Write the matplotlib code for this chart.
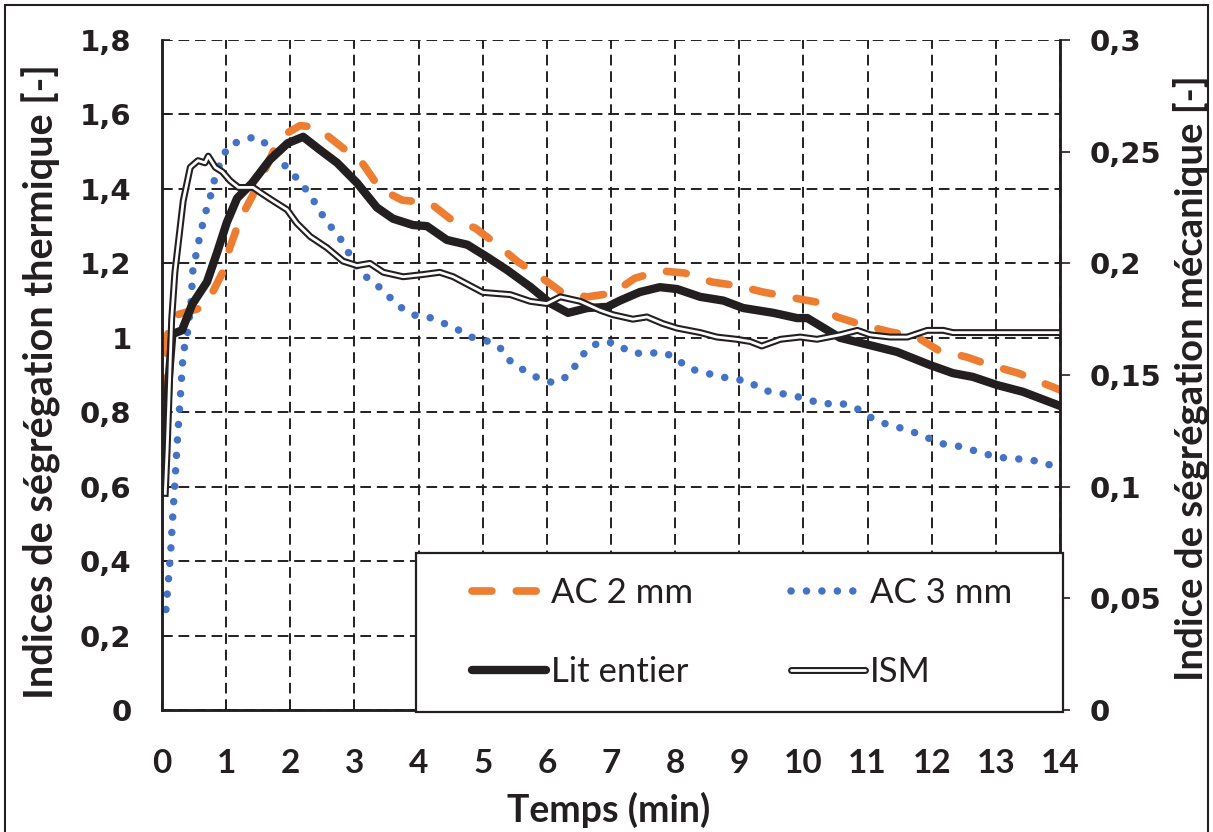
import matplotlib.pyplot as plt
from matplotlib.lines import Line2D
from matplotlib.patches import Rectangle
from matplotlib.legend_handler import HandlerLine2D, HandlerTuple

# Lit entier (indice thermique, axe gauche)
t_lit = [0.03, 0.06, 0.1, 0.16, 0.31, 0.47, 0.70, 0.86, 1.01, 1.17, 1.40, 1.68, 1.96, 2.20,
         2.46, 2.73, 3.04, 3.35, 3.60, 3.91, 4.13, 4.44, 4.76, 5.07, 5.38, 5.74, 6.05, 6.33,
         6.63, 6.94, 7.14, 7.45, 7.76, 8.03, 8.39, 8.75, 9.06, 9.53, 9.9, 10.06, 10.57, 11.04,
         11.46, 11.97, 12.33, 12.64, 13.02, 13.42, 14.0]
v_lit = [0.64, 0.72, 0.88, 1.01, 1.02, 1.09, 1.15, 1.23, 1.31, 1.375, 1.415, 1.478, 1.523, 1.54,
         1.505, 1.47, 1.416, 1.35, 1.32, 1.303, 1.30, 1.263, 1.25, 1.217, 1.182, 1.137, 1.093, 1.067,
         1.08, 1.083, 1.10, 1.123, 1.136, 1.131, 1.11, 1.10, 1.08, 1.067, 1.053, 1.053, 1.0, 0.98,
         0.962, 0.927, 0.905, 0.895, 0.873, 0.855, 0.817]

# AC 2 mm
t_ac2 = [0.02, 0.05, 0.1, 0.2, 0.4, 0.6, 0.75, 0.94, 1.06, 1.22, 1.40, 1.6, 1.76, 1.95, 2.15,
         2.39, 2.6, 2.82, 3.12, 3.40, 3.74, 4.18, 4.49, 4.88, 5.19, 5.55, 5.86, 6.25, 6.63,
         7.03, 7.37, 7.76, 8.15, 8.57, 8.96, 9.37, 9.76, 10.2, 10.52, 10.93, 11.35, 11.77, 12.1,
         12.55, 12.9, 13.35, 13.74, 14.0]
v_ac2 = [0.72, 0.88, 1.04, 1.06, 1.07, 1.08, 1.11, 1.174, 1.244, 1.32, 1.378, 1.45, 1.51, 1.55, 1.57,
         1.566, 1.54, 1.51, 1.47, 1.40, 1.37, 1.362, 1.32, 1.295, 1.255, 1.204, 1.169, 1.12, 1.11,
         1.12, 1.16, 1.18, 1.174, 1.15, 1.14, 1.123, 1.11, 1.096, 1.056, 1.034, 1.016, 1.002, 0.967,
         0.948, 0.927, 0.905, 0.878, 0.86]

# AC 3 mm
t_ac3 = [0.06, 0.1, 0.14, 0.17, 0.2, 0.23, 0.28, 0.33, 0.39, 0.45, 0.48, 0.56, 0.64, 0.70, 0.78,
         0.83, 0.92, 1.03, 1.23, 1.45, 1.65, 1.81, 1.98, 2.15, 2.31, 2.43, 2.57, 2.74, 2.87, 3.0,
         3.15, 3.35, 3.53, 3.71, 3.93, 4.15, 4.38, 4.6, 4.82, 5.07, 5.27, 5.44, 5.64, 5.86, 6.1,
         6.33, 6.47, 6.63, 6.83, 7.08, 7.28, 7.53, 7.78, 8.0, 8.19, 8.42, 8.67, 8.9, 9.14, 9.35,
         9.59, 9.84, 10.07, 10.3, 10.56, 10.8, 11.0, 11.24, 11.47, 11.71, 11.94, 12.18, 12.41,
         12.64, 12.9, 13.14, 13.39, 13.64, 13.89, 14.0]
v_ac3 = [0.27, 0.35, 0.44, 0.53, 0.61, 0.70, 0.83, 0.96, 1.005, 1.09, 1.18, 1.25, 1.31, 1.35, 1.395,
         1.435, 1.475, 1.515, 1.53, 1.54, 1.518, 1.483, 1.45, 1.42, 1.383, 1.35, 1.31, 1.278, 1.24, 1.20,
         1.168, 1.142, 1.112, 1.083, 1.061, 1.056, 1.04, 1.023, 1.002, 0.991, 0.973, 0.935, 0.913, 0.892, 0.879,
         0.897, 0.932, 0.97, 0.989, 0.986, 0.962, 0.956, 0.962, 0.948, 0.919, 0.908, 0.897, 0.889, 0.884, 0.86,
         0.852, 0.845, 0.834, 0.822, 0.825, 0.814, 0.79, 0.771, 0.76, 0.747, 0.731, 0.715, 0.709,
         0.698, 0.685, 0.677, 0.674, 0.669, 0.656, 0.652]

# ISM (indice mécanique, axe droit)
t_ism = [0.05, 0.08, 0.15, 0.2, 0.33, 0.44, 0.56, 0.67, 0.72, 0.83, 0.94, 1.06, 1.19, 1.42, 1.57,
         1.73, 1.95, 2.1, 2.31, 2.57, 2.82, 3.04, 3.24, 3.45, 3.76, 4.07, 4.33, 4.54, 5.0, 5.43,
         5.74, 6.0, 6.21, 6.52, 6.83, 7.03, 7.34, 7.56, 7.81, 8.03, 8.39, 8.65, 8.96, 9.17, 9.35,
         9.64, 9.95, 10.21, 10.57, 10.84, 11.04, 11.35, 11.62, 11.93, 12.18, 12.33, 14.0]
v_ism = [0.097, 0.117, 0.175, 0.196, 0.228, 0.243, 0.246, 0.245, 0.248, 0.243, 0.241, 0.237, 0.234, 0.234, 0.231,
         0.228, 0.224, 0.218, 0.212, 0.207, 0.201, 0.199, 0.200, 0.196, 0.194, 0.195, 0.196, 0.194, 0.187, 0.186,
         0.183, 0.182, 0.185, 0.183, 0.179, 0.177, 0.175, 0.176, 0.173, 0.171, 0.169, 0.167, 0.166, 0.165, 0.163,
         0.166, 0.167, 0.166, 0.168, 0.170, 0.168, 0.167, 0.167, 0.170, 0.170, 0.169, 0.169]

x_ticks = list(range(0, 15))
left_ticks = [0, 0.2, 0.4, 0.6, 0.8, 1.0, 1.2, 1.4, 1.6, 1.8]
left_labels = ['0', '0,2', '0,4', '0,6', '0,8', '1', '1,2', '1,4', '1,6', '1,8']
right_ticks = [0, 0.05, 0.1, 0.15, 0.2, 0.25, 0.3]
right_labels = ['0', '0,05', '0,1', '0,15', '0,2', '0,25', '0,3']

orange = '#ED7D31'
blue = '#4472C4'
dark = '#231F20'

fig = plt.figure(figsize=(12.13, 8.32), dpi=100)
ax = fig.add_axes([0.1336, 0.1466, 0.7403, 0.8053])
ax2 = ax.twinx()

ac2_style = dict(color=orange, lw=5.5, dashes=(2.6, 3.2), dash_capstyle='round')
ac3_style = dict(color=blue, lw=5.4, linestyle=(0, (0.01, 2.05)), dash_capstyle='round')
lit_style = dict(color=dark, lw=6, solid_capstyle='round', solid_joinstyle='round')

ax.plot(t_ac2, v_ac2, **ac2_style)
ax.plot(t_ac3, v_ac3, **ac3_style)
ax.plot(t_lit, v_lit, **lit_style)
ax2.plot(t_ism, v_ism, color=dark, lw=5.0, solid_joinstyle='round')
ax2.plot(t_ism, v_ism, color='white', lw=2.0, solid_joinstyle='round')

ax.set_xlim(0, 14)
ax.set_ylim(0, 1.8)
ax2.set_ylim(0, 0.3)

ax.set_xticks(x_ticks)
ax.set_xticklabels([str(x) for x in x_ticks], fontfamily='Lato', fontweight='bold', fontsize=24)
ax.set_yticks(left_ticks)
ax.set_yticklabels(left_labels, fontfamily='DejaVu Sans', fontweight='bold', fontsize=21)
ax2.set_yticks(right_ticks)
ax2.set_yticklabels(right_labels, fontfamily='DejaVu Sans', fontweight='bold', fontsize=21)

ax.tick_params(axis='x', direction='in', length=7, width=1.2, pad=28, colors=dark)
ax.tick_params(axis='y', direction='in', length=6, width=1.2, pad=22, colors=dark)
ax2.tick_params(axis='y', direction='out', length=7, width=1.2, pad=14, colors=dark)

ax.grid(True, color=dark, lw=1.4, dashes=(5.5, 3))
for a in (ax, ax2):
    a.spines['top'].set_visible(False)
    for s in ('left', 'right', 'bottom'):
        a.spines[s].set_color(dark)
        a.spines[s].set_linewidth(1.8)

ax.set_xlabel('Temps (min)', fontfamily='Lato', fontweight='bold', fontsize=27, color=dark)
ax.xaxis.set_label_coords(0.497, -0.122)
ax.set_ylabel('Indices de ségrégation thermique [-]', fontfamily='Lato', fontweight='bold',
              fontsize=28.5, color=dark)
ax.yaxis.set_label_coords(-0.112, 0.49)
ax2.set_ylabel('Indice de ségrégation mécanique [-]', fontfamily='Lato', fontweight='bold',
               fontsize=27.5, color=dark, rotation=90)
ax2.yaxis.set_label_coords(1.126, 0.495)

handles = [Line2D([], [], **ac2_style),
           Line2D([], [], **lit_style),
           Line2D([], [], **ac3_style),
           (Line2D([], [], color=dark, lw=5.0, solid_capstyle='round'),
            Line2D([], [], color='white', lw=2.0, solid_capstyle='round'))]
labels = ['AC 2 mm', 'Lit entier', 'AC 3 mm   ', 'ISM']
leg = ax2.legend(handles, labels, ncol=2, loc='lower left', mode='expand',
                 bbox_to_anchor=(0.283, -0.003, 0.72, 0.237), prop={'family': 'Lato', 'size': 25},
                 frameon=True, fancybox=False, edgecolor=dark, framealpha=1,
                 handlelength=3.05, handletextpad=0.12, labelspacing=1.35, borderpad=0.7,
                 borderaxespad=0,
                 handler_map={Line2D: HandlerLine2D(xpad=0.9),
                              tuple: HandlerTuple(ndivide=1, xpad=0.9)})
leg.get_frame().set_linewidth(1.6)
for txt in leg.get_texts():
    txt.set_color(dark)

fig.patches.append(Rectangle((0.004, -0.01), 0.992, 1.004, transform=fig.transFigure,
                             fill=False, edgecolor=dark, lw=1.5))

fig.savefig('out.png', dpi=100)
